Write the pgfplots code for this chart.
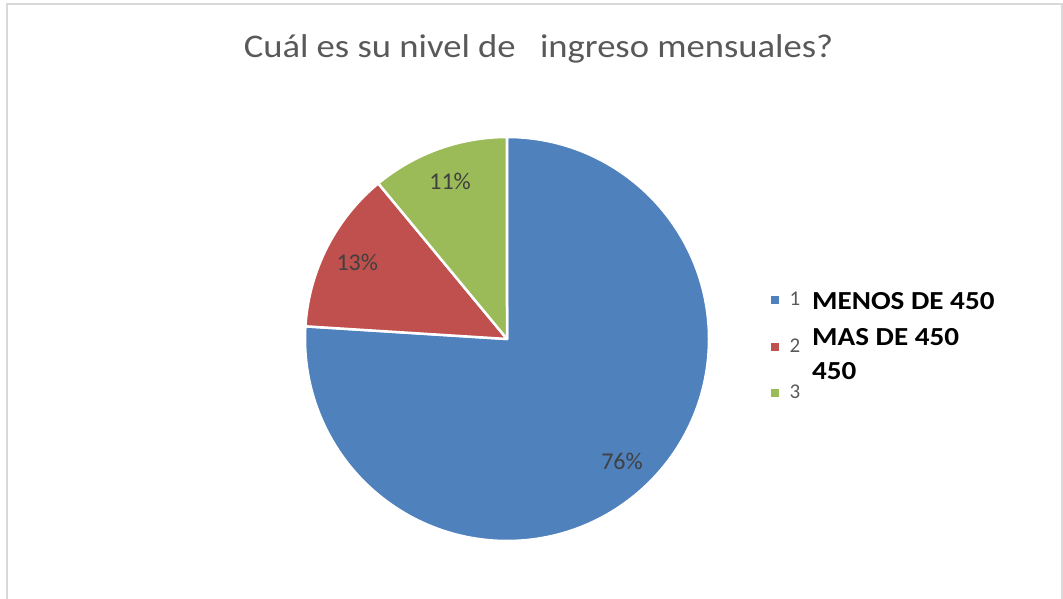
\documentclass[border=0pt]{standalone}
\usepackage{pgfplots}
\usepackage{pgfplotstable}
\pgfplotsset{compat=1.18}
\usetikzlibrary{calc}
\usepackage{fontspec}
\setmainfont{Carlito}
\definecolor{cBlue}{HTML}{4F81BD}
\definecolor{cRed}{HTML}{C0504D}
\definecolor{cGreen}{HTML}{9BBB59}
\definecolor{cLbl}{HTML}{404040}
\definecolor{cTitle}{HTML}{595959}
\definecolor{cFrame}{HTML}{D9D9D9}

\pgfplotstableread{
cat value
1 76
2 13
3 11
}\piedata
\pgfplotstablegetelem{0}{value}\of\piedata \let\vA\pgfplotsretval
\pgfplotstablegetelem{1}{value}\of\piedata \let\vB\pgfplotsretval
\pgfplotstablegetelem{2}{value}\of\piedata \let\vC\pgfplotsretval
\pgfmathsetmacro\tot{\vA+\vB+\vC}
\pgfmathsetmacro\aS{90}
\pgfmathsetmacro\aA{90-360*(\vA/\tot)}
\pgfmathsetmacro\aB{\aA-360*(\vB/\tot)}
\pgfmathsetmacro\aC{\aB-360*(\vC/\tot)}
\pgfmathsetmacro\mA{(\aS+\aA)/2}
\pgfmathsetmacro\mB{(\aA+\aB)/2}
\pgfmathsetmacro\mC{(\aB+\aC)/2}

\begin{document}
\begin{tikzpicture}
\begin{axis}[
  name=ax,
  hide axis, scale only axis,
  width=1063pt, height=599pt,
  xmin=0, xmax=1063, ymin=0, ymax=599,
  clip=false,
]
% frame
\draw[cFrame, line width=1.5pt] (axis cs:7,0) -- (axis cs:7,595) -- (axis cs:1062,595) -- (axis cs:1062,0);
% title
\node[anchor=base, text=cTitle, font=\fontsize{33}{38}\selectfont] at (axis cs:538.5,541)
  {\scalebox{1.11}[1]{Cuál es su nivel de\hspace{22pt}ingreso mensuales?}};
% pie
\def\R{202pt}
\filldraw[fill=cBlue, draw=white, line width=2.5pt, line join=round] (axis cs:507,260) -- ++(\aS:\R) arc[start angle=\aS, end angle=\aA, radius=\R] -- cycle;
\filldraw[fill=cRed, draw=white, line width=2.5pt, line join=round] (axis cs:507,260) -- ++(\aA:\R) arc[start angle=\aA, end angle=\aB, radius=\R] -- cycle;
\filldraw[fill=cGreen, draw=white, line width=2.5pt, line join=round] (axis cs:507,260) -- ++(\aB:\R) arc[start angle=\aB, end angle=\aC, radius=\R] -- cycle;
% data labels
\node[text=cLbl, font=\fontsize{24}{28}\selectfont] at ($(axis cs:507,260)+(\mA:168pt)$) {\vA\%};
\node[text=cLbl, font=\fontsize{24}{28}\selectfont] at ($(axis cs:507,260)+(\mB:168pt)$) {\vB\%};
\node[text=cLbl, font=\fontsize{24}{28}\selectfont] at ($(axis cs:507,260)+(\mC:168pt)$) {\vC\%};
% legend
\fill[cBlue] (axis cs:771,295) rectangle (axis cs:779,303);
\fill[cRed] (axis cs:771,248) rectangle (axis cs:779,256);
\fill[cGreen] (axis cs:771,202) rectangle (axis cs:779,210);
\node[anchor=west, text=cTitle, font=\fontsize{21}{24}\selectfont] at (axis cs:786,300) {1};
\node[anchor=west, text=cTitle, font=\fontsize{21}{24}\selectfont] at (axis cs:786,253) {2};
\node[anchor=west, text=cTitle, font=\fontsize{21}{24}\selectfont] at (axis cs:786,207) {3};
\node[anchor=base west, inner sep=0pt, font=\bfseries\fontsize{26}{30}\selectfont] at (axis cs:812,289) {\scalebox{1.12}[1]{MENOS DE 450}};
\node[anchor=base west, inner sep=0pt, font=\bfseries\fontsize{26}{30}\selectfont] at (axis cs:812,253) {\scalebox{1.12}[1]{MAS DE 450}};
\node[anchor=base west, inner sep=0pt, font=\bfseries\fontsize{26}{30}\selectfont] at (axis cs:812,219) {\scalebox{1.12}[1]{450}};
\end{axis}
\pgfresetboundingbox
\path (ax.south west) rectangle (ax.north east);
\end{tikzpicture}
\end{document}
